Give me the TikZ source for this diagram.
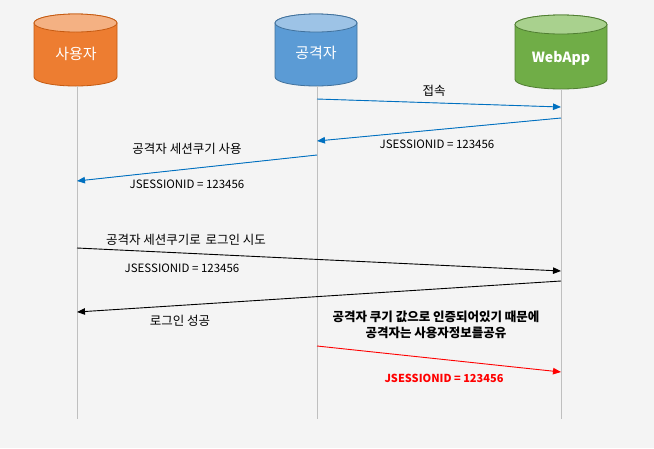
\documentclass[tikz,border=0pt]{standalone}
\usepackage{fontspec}
\setmainfont{Noto Sans CJK KR}
\usetikzlibrary{arrows.meta}
\definecolor{bg}{HTML}{F4F4F4}
\definecolor{lifec}{HTML}{BFBFBF}
\definecolor{oBody}{HTML}{ED7D31}\definecolor{oTop}{HTML}{F4B183}\definecolor{oLine}{HTML}{C55A11}
\definecolor{bBody}{HTML}{5B9BD5}\definecolor{bTop}{HTML}{9DC3E6}\definecolor{bLine}{HTML}{41719C}
\definecolor{gBody}{HTML}{70AD47}\definecolor{gTop}{HTML}{A9D18E}\definecolor{gLine}{HTML}{507E32}
\definecolor{msgblue}{HTML}{0070C0}
\tikzset{
  lifeline/.style={draw=lifec, line width=1pt},
  msg/.style={line width=0.9pt, -{Triangle[length=8pt,width=6.5pt]}},
  lbl/.style={font=\fontsize{11.5pt}{13pt}\selectfont, inner sep=0pt, text=black},
  klbl/.style={font=\fontsize{12.5pt}{14pt}\selectfont, inner sep=0pt, text=black},
  title/.style={font=\fontsize{15pt}{17pt}\selectfont, text=white, inner sep=0pt},
}
\newcommand{\cyl}[7]{% xl, xr, ytop-center, ybot-center, ry, body, line
  \pgfmathsetmacro{\rx}{(#2-#1)/2}
  \filldraw[fill=#6, draw=#7, line width=0.8pt] (#1,#3) -- (#1,#4)
     arc[start angle=180, end angle=360, x radius=\rx pt, y radius=#5pt]
     -- (#2,#3) arc[start angle=0, end angle=180, x radius=\rx pt, y radius=#5pt] -- cycle;
}
\begin{document}
\begin{tikzpicture}[x=1pt,y=-1pt]
\fill[bg] (0,0) rectangle (654,448);
\useasboundingbox (0,0) rectangle (654,448);

% cylinders
\cyl{34}{117}{23}{77}{9}{oBody}{oLine}
\filldraw[fill=oTop, draw=oLine, line width=0.8pt] (75.5,23) ellipse[x radius=41.5pt, y radius=9pt];
\cyl{275}{357}{23}{77}{9}{bBody}{bLine}
\filldraw[fill=bTop, draw=bLine, line width=0.8pt] (316,23) ellipse[x radius=41pt, y radius=9pt];
\cyl{515}{607}{24.5}{79.5}{9.5}{gBody}{gLine}
\filldraw[fill=gTop, draw=gLine, line width=0.8pt] (561,24.5) ellipse[x radius=46pt, y radius=9.5pt];

\node[title] (user) at (76,54) {사용자};
\node[title] (att) at (316,53) {공격자};
\node[title, font=\fontsize{14pt}{16pt}\selectfont\bfseries] (web) at (561,58) {WebApp};

% lifelines
\coordinate (uT) at (77,86);  \coordinate (uB) at (77,419);
\coordinate (aT) at (317,86); \coordinate (aB) at (317,419);
\coordinate (wT) at (561,89); \coordinate (wB) at (561,419);
\draw[lifeline] (uT) -- (uB);
\draw[lifeline] (aT) -- (aB);
\draw[lifeline] (wT) -- (wB);

% message endpoints
\coordinate (a1) at (317,99);  \coordinate (w1) at (561,107);
\coordinate (w2) at (561,118); \coordinate (a2) at (317,141);
\coordinate (a3) at (317,155); \coordinate (u3) at (77,181);
\coordinate (u4) at (77,248);  \coordinate (w4) at (561,271);
\coordinate (w5) at (561,281); \coordinate (u5) at (77,312);
\coordinate (a6) at (317,346); \coordinate (w6) at (561,372);

\draw[msg, draw=msgblue, fill=msgblue] (a1) -- (w1);
\draw[msg, draw=msgblue, fill=msgblue] (w2) -- (a2);
\draw[msg, draw=msgblue, fill=msgblue] (a3) -- (u3);
\draw[msg, draw=black] (u4) -- (w4);
\draw[msg, draw=black] (w5) -- (u5);
\draw[msg, draw=red] (a6) -- (w6);

% labels
\node[klbl] (l1) at (434,91) {접속};
\node[lbl] (l2) at (437,144.5) {JSESSIONID = 123456};
\node[klbl] (l3) at (187,149) {공격자 세션쿠기 사용};
\node[lbl] (l4) at (187,184) {JSESSIONID = 123456};
\node[klbl] (l5) at (186,240) {공격자 세션쿠기로\, 로그인 시도};
\node[lbl] (l6) at (182,268) {JSESSIONID = 123456};
\node[klbl] (l7) at (180,321) {로그인 성공};
\node[klbl, font=\fontsize{12.5pt}{16pt}\selectfont\bfseries, align=center] (l8) at (436,325) {공격자 쿠기 값으로 인증되어있기 때문에\\공격자는 사용자정보를공유};
\node[lbl, font=\fontsize{11pt}{13pt}\selectfont\bfseries, text=red] (l9) at (444,378.5) {JSESSIONID = 123456};
\end{tikzpicture}
\end{document}
